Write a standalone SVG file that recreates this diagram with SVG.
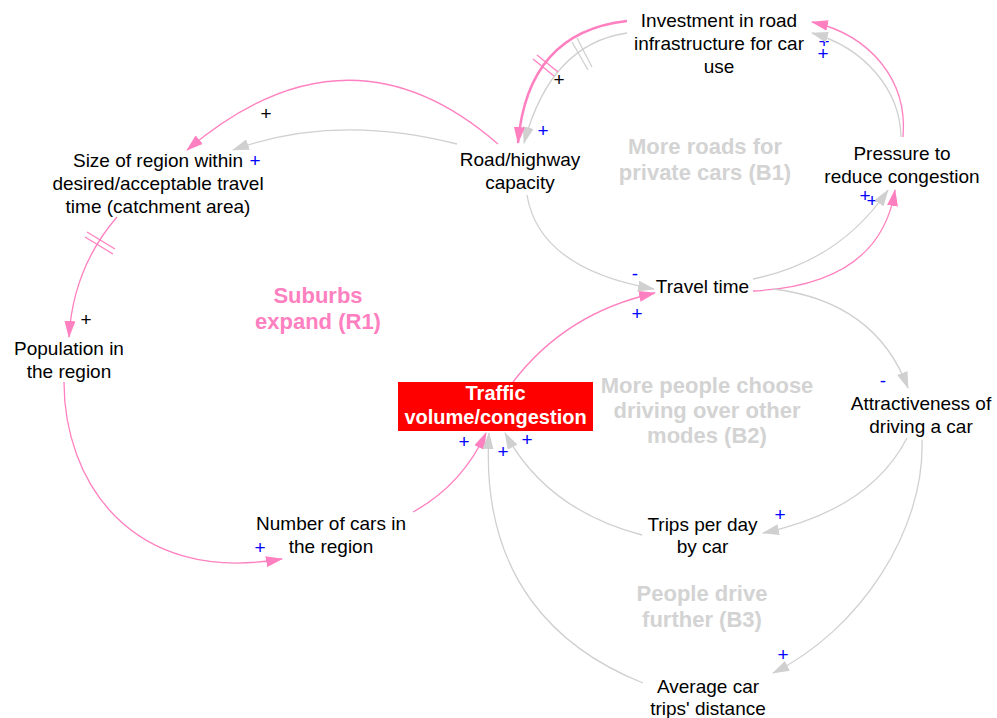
<svg xmlns="http://www.w3.org/2000/svg" width="997" height="718" viewBox="0 0 997 718">
<defs>
<style>
.n{font-family:"Liberation Sans",Arial,sans-serif;font-size:19px;fill:#000;text-anchor:middle}
.lp{font-family:"Liberation Sans",Arial,sans-serif;font-size:22px;font-weight:bold;fill:#d3d3d3;text-anchor:middle}
.lr{font-family:"Liberation Sans",Arial,sans-serif;font-size:22px;font-weight:bold;fill:#ff80c0;text-anchor:middle}
.tv{font-family:"Liberation Sans",Arial,sans-serif;font-size:20px;font-weight:bold;fill:#fff;text-anchor:middle}
.s{font-family:"Liberation Sans",Arial,sans-serif;font-size:19px;fill:#0000ff;text-anchor:middle}
.sb{font-family:"Liberation Sans",Arial,sans-serif;font-size:19px;fill:#000;text-anchor:middle}
.p{fill:none;stroke:#ff80c0;stroke-width:1.3;marker-end:url(#ap)}
.g{fill:none;stroke:#d0d0d0;stroke-width:1.3;marker-end:url(#ag)}
.hp{stroke:#ff80c0;stroke-width:1.3}
.hg{stroke:#d0d0d0;stroke-width:1.3}
</style>
<marker id="ap" viewBox="0 0 17 11" refX="16" refY="5.5" markerWidth="17" markerHeight="11" markerUnits="userSpaceOnUse" orient="auto"><path d="M0,0 L17,5.5 L0,11 z" fill="#ff80c0"/></marker>
<marker id="ag" viewBox="0 0 17 11" refX="16" refY="5.5" markerWidth="17" markerHeight="11" markerUnits="userSpaceOnUse" orient="auto"><path d="M0,0 L17,5.5 L0,11 z" fill="#d0d0d0"/></marker>
</defs>
<rect width="997" height="718" fill="#fff"/>

<g id="loops">
<text class="lp" x="705" y="154">More roads for</text>
<text class="lp" x="705" y="180">private cars (B1)</text>
<text class="lr" x="318" y="303">Suburbs</text>
<text class="lr" x="318" y="329">expand (R1)</text>
<text class="lp" x="707" y="393">More people choose</text>
<text class="lp" x="707" y="418">driving over other</text>
<text class="lp" x="707" y="443">modes (B2)</text>
<text class="lp" x="702" y="601">People drive</text>
<text class="lp" x="702" y="627">further (B3)</text>
</g>

<g id="signs">
<text class="sb" x="559" y="85.5">+</text>
<text class="s" x="543" y="136.5">+</text>
<text class="s" x="824" y="47.5">+</text>
<text class="s" x="823" y="59.5">+</text>
<text class="s" x="865" y="201.5">+</text>
<text class="s" x="872" y="206.5">+</text>
<text class="sb" x="266" y="119.5">+</text>
<text class="s" x="255" y="166.5">+</text>
<text class="sb" x="86" y="325.5">+</text>
<text class="s" x="260" y="553.5">+</text>
<text class="s" x="464" y="447.5">+</text>
<text class="s" x="503" y="457.5">+</text>
<text class="s" x="527" y="445.5">+</text>
<text class="s" x="635" y="280">-</text>
<text class="s" x="637" y="319.5">+</text>
<text class="s" x="883" y="387">-</text>
<text class="s" x="780" y="520.5">+</text>
<text class="s" x="783" y="660.5">+</text>
</g>

<g id="connectors">
<path class="g" d="M627,33 Q550.5,44 524,143"/>
<path class="p" d="M627,21 Q527.5,32 518,143" style="stroke-width:2.5"/>
<line class="hg" x1="572" y1="42" x2="588" y2="70"/>
<line class="hg" x1="577" y1="38" x2="592" y2="67"/>
<line class="hp" x1="533" y1="59" x2="554" y2="76"/>
<line class="hp" x1="537" y1="55" x2="558" y2="72"/>
<path class="g" d="M457,144 Q335,113 233,150"/>
<path class="p" d="M498,144 Q348,13.5 187,150"/>
<path class="p" d="M117,217 Q73,268 69,337"/>
<line class="hp" x1="85" y1="237" x2="113" y2="254"/>
<line class="hp" x1="87" y1="232" x2="115" y2="249"/>
<path class="p" d="M64,382 C64,480 130,585 282,559"/>
<path class="p" d="M413,512 Q462,485 486,433"/>
<path class="p" d="M513,382 Q566,312.5 655,293"/>
<path class="g" d="M527,195 Q539,268.5 654,289"/>
<path class="g" d="M753,279 Q839.5,261.5 888,190"/>
<path class="p" d="M753,291 Q880,285 895,190"/>
<path class="g" d="M901,137 C900,90 865,48 812,33"/>
<path class="p" d="M903,137 C908,80 870,35 812,22"/>
<path class="g" d="M773,289 Q875.5,301.5 908,388"/>
<path class="g" d="M907,438 Q870,510 763,533"/>
<path class="g" d="M922,440 C925,530 860,630 773,673"/>
<path class="g" d="M642,535 Q546.5,510 505,433"/>
<path class="g" d="M643,683 C560,650 480,580 489,433"/>
</g>

<g id="investment"><text class="n" x="719" y="27">Investment in road</text><text class="n" x="719" y="50">infrastructure for car</text><text class="n" x="719" y="73">use</text></g>
<g id="road"><text class="n" x="520" y="166">Road/highway</text><text class="n" x="520" y="189">capacity</text></g>
<g id="pressure"><text class="n" x="902" y="160">Pressure to</text><text class="n" x="902" y="183">reduce congestion</text></g>
<g id="size"><text class="n" x="158" y="167">Size of region within</text><text class="n" x="158" y="190">desired/acceptable travel</text><text class="n" x="158" y="213">time (catchment area)</text></g>
<g id="population"><text class="n" x="69" y="355">Population in</text><text class="n" x="69" y="378">the region</text></g>
<g id="cars"><text class="n" x="331" y="530">Number of cars in</text><text class="n" x="331" y="553">the region</text></g>
<g id="traffic"><rect x="398" y="382" width="195" height="49" fill="#ff0000"/><text class="tv" x="495.5" y="400">Traffic</text><text class="tv" x="495.5" y="424">volume/congestion</text></g>
<g id="traveltime"><text class="n" x="702.5" y="293">Travel time</text></g>
<g id="attractiveness"><text class="n" x="921" y="410">Attractiveness of</text><text class="n" x="921" y="433">driving a car</text></g>
<g id="trips"><text class="n" x="702.5" y="531">Trips per day</text><text class="n" x="702.5" y="553">by car</text></g>
<g id="distance"><text class="n" x="708" y="693">Average car</text><text class="n" x="708" y="715">trips' distance</text></g>
</svg>
